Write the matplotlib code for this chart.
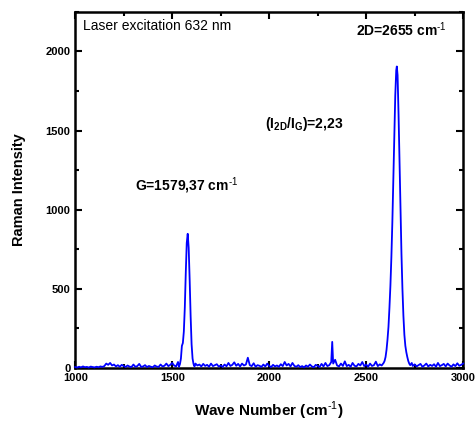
import numpy as np
import matplotlib
matplotlib.use('Agg')
import matplotlib.pyplot as plt
from matplotlib.ticker import MultipleLocator

plt.rcParams['font.family'] = ['Liberation Sans', 'DejaVu Sans']
plt.rcParams['mathtext.fontset'] = 'custom'
plt.rcParams['mathtext.rm'] = 'Liberation Sans'
plt.rcParams['mathtext.bf'] = 'Liberation Sans:bold'

#%% Spektrum
wave = [1000, 1010, 1020, 1030, 1040, 1050, 1060, 1070, 1080, 1090,
        1100, 1110, 1120, 1130, 1140, 1150, 1160, 1170, 1180, 1190,
        1200, 1210, 1220, 1230, 1240, 1250, 1260, 1270, 1280, 1290,
        1300, 1310, 1320, 1330, 1340, 1350, 1360, 1370, 1380, 1390,
        1400, 1410, 1420, 1430, 1440, 1450, 1460, 1470, 1480, 1490,
        1500, 1510, 1520, 1530,
        # G-Bande
        1535, 1540, 1545, 1550, 1555, 1560, 1565, 1570, 1575, 1580,
        1585, 1590, 1595, 1600, 1605, 1610, 1615,
        1620, 1630, 1640, 1650, 1660, 1670, 1680, 1690, 1700, 1710,
        1720, 1730, 1740, 1750, 1760, 1770, 1780, 1790, 1800, 1810,
        1820, 1830, 1840, 1850, 1860, 1870, 1880, 1890, 1900, 1910,
        1920, 1930, 1940, 1950, 1960, 1970, 1980, 1990, 2000, 2010,
        2020, 2030, 2040, 2050, 2060, 2070, 2080, 2090, 2100, 2110,
        2120, 2130, 2140, 2150, 2160, 2170, 2180, 2190, 2200, 2210,
        2220, 2230, 2240, 2250, 2260, 2270, 2280, 2290, 2300, 2310,
        2320, 2325, 2330, 2340, 2350, 2360, 2370, 2380, 2390, 2400,
        2410, 2420, 2430, 2440, 2450, 2460, 2470, 2480, 2490, 2500,
        2510, 2520, 2530, 2540, 2550, 2560, 2570, 2580, 2590,
        # 2D-Bande
        2595, 2600, 2605, 2610, 2615, 2620, 2625, 2630, 2635, 2640,
        2645, 2650, 2655, 2658, 2662, 2667, 2672, 2677, 2682, 2687,
        2692, 2697, 2702, 2707, 2712, 2717, 2722, 2727,
        2735, 2740, 2750, 2760, 2770, 2780, 2790, 2800, 2810, 2820,
        2830, 2840, 2850, 2860, 2870, 2880, 2890, 2900, 2910, 2920,
        2930, 2940, 2950, 2960, 2970, 2980, 2990, 3000]

intensity = [6, 3, 8, 4, 10, 5, 7, 3, 9, 6,
             4, 8, 5, 10, 7, 12, 28, 20, 32, 16,
             22, 10, 18, 8, 20, 12, 7, 16, 9, 6,
             22, 8, 12, 26, 7, 10, 18, 6, 13, 8,
             5, 16, 9, 7, 22, 10, 14, 28, 12, 20,
             32, 16, 10, 38,
             8, 25, 60, 140, 158, 230, 380, 600, 790, 848,
             760, 560, 330, 150, 60, 25, 10,
             28, 16, 22, 10, 26, 13, 20, 8, 28, 12,
             18, 24, 9, 16, 7, 22, 11, 32, 13, 20,
             36, 14, 26, 10, 28, 16, 22, 65, 18, 12,
             30, 8, 18, 14, 7, 22, 10, 28, 13, 6,
             20, 10, 16, 8, 24, 12, 38, 16, 26, 10,
             32, 13, 8, 18, 6, 12, 4, 16, 8, 22,
             10, 5, 20, 13, 7, 26, 10, 32, 12, 18,
             38, 165, 28, 52, 16, 10, 28, 13, 42, 12,
             20, 8, 32, 14, 10, 26, 16, 38, 12, 22,
             8, 28, 13, 18, 40, 12, 23, 16, 32,
             45, 70, 115, 180, 260, 380, 520, 700, 920, 1180,
             1450, 1720, 1880, 1905, 1850, 1600, 1300, 1000, 720, 500,
             330, 210, 140, 100, 70, 45, 28, 18,
             32, 13, 23, 10, 18, 26, 8, 16, 28, 10,
             20, 13, 24, 8, 32, 12, 18, 26, 10, 28,
             16, 8, 23, 12, 30, 14, 20, 28]

x_ticks = [1000, 1500, 2000, 2500, 3000]
y_ticks = [0, 500, 1000, 1500, 2000]

fig = plt.figure(figsize=(4.76, 4.23), dpi=100)
ax = fig.add_axes([0.158, 0.130, 0.815, 0.842])
ax.plot(wave, intensity, color='#0000ff', lw=1.3, zorder=5, clip_on=False)

ax.set_xlim(1000, 3000)
ax.set_ylim(0, 2250)
ax.set_xticks(x_ticks)
ax.set_yticks(y_ticks)
ax.xaxis.set_minor_locator(MultipleLocator(250))
ax.yaxis.set_minor_locator(MultipleLocator(250))
ax.tick_params(which='both', direction='in', top=True, right=True,
               width=1.5, labelsize=8)
ax.tick_params(which='major', length=5)
ax.tick_params(which='minor', length=3)
for lab in ax.get_xticklabels() + ax.get_yticklabels():
    lab.set_fontweight('bold')
for s in ax.spines.values():
    s.set_linewidth(1.8)

ax.set_xlabel(r'Wave Number (cm$^{\text{-1}}$)', fontsize=11,
              fontweight='bold', labelpad=12)
ax.set_ylabel('Raman Intensity', fontsize=10.5, fontweight='bold', labelpad=14)

ax.text(1040, 2160, 'Laser excitation 632 nm', fontsize=10, va='center')
ax.text(2450, 2140, r'2D=2655 cm$^{\text{-1}}$', fontsize=10,
        fontweight='bold', va='center')
ax.text(1980, 1540, r'(I$_{\mathregular{2D}}$/I$_{\mathregular{G}}$)=2,23',
        fontsize=10, fontweight='bold', va='center')
ax.text(1310, 1150, r'G=1579,37 cm$^{\text{-1}}$', fontsize=10,
        fontweight='bold', va='center')

fig.savefig('out.png', dpi=100)
